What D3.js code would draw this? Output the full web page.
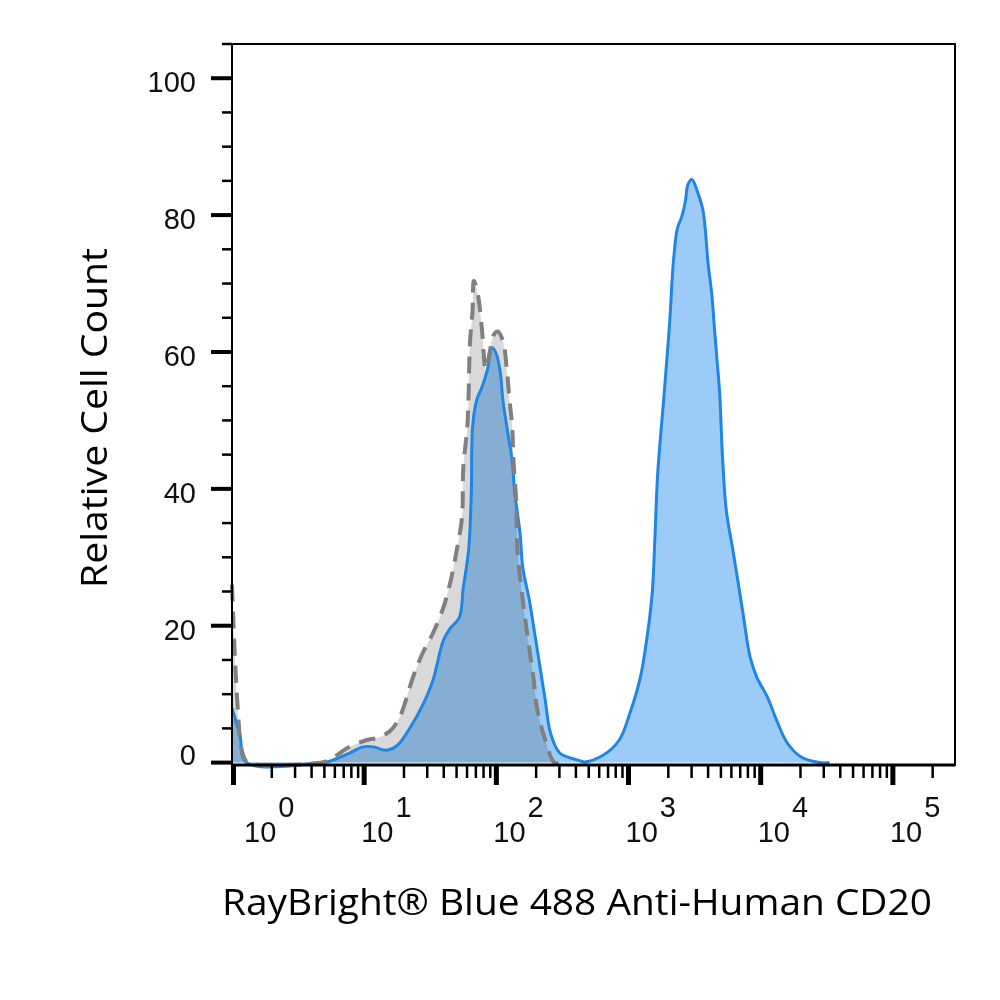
<!DOCTYPE html>
<html lang="en">
<head>
  <meta charset="UTF-8">
  <script src="https://cdn.jsdelivr.net/npm/d3@7"></script>
  <style>
    body { margin: 0; background: #fff; }
  </style>
</head>
<body>
<div id="container"></div>
<script>

// Stained sample (blue) - position in decades of fluorescence, relative count
const sampleDecade = [0, 0.06, 0.11, 0.67, 0.74, 0.89, 0.99, 1.07, 1.17, 1.25, 1.35, 1.45, 1.52, 1.60, 1.65, 1.72, 1.75,
  1.79, 1.81, 1.82, 1.85, 1.89, 1.93, 1.97, 2.00, 2.03, 2.05, 2.08, 2.12, 2.14, 2.18, 2.20, 2.25, 2.29, 2.33, 2.37, 2.41,
  2.48, 2.61, 2.67, 2.81, 2.93, 3.01, 3.09, 3.14, 3.18, 3.20, 3.22, 3.27, 3.31, 3.34, 3.37, 3.40, 3.43, 3.45, 3.48, 3.52,
  3.56, 3.58, 3.60, 3.63, 3.65, 3.67, 3.69, 3.71, 3.74, 3.79, 3.83, 3.87, 3.92, 3.97, 4.05, 4.12, 4.20, 4.30, 4.45, 4.52];
const sampleCount = [8, 4, 0, 0, 0.2, 1.4, 2.3, 2.3, 1.8, 2.5, 5.2, 8.7, 12, 17.9, 19.6, 21.2, 25.6,
  31, 39, 49, 52.9, 54.8, 57.2, 60.6, 59.7, 57, 52.9, 49, 44, 39.3, 33.4, 28.5, 23.7, 18.9, 14, 9.1, 4.3,
  1.4, 0.4, 0.1, 1.1, 3.3, 7.2, 12.5, 18.3, 25, 33, 42, 54, 64, 73.3, 78.1, 79.6, 82, 84.5, 85.2, 83.5,
  81, 78.1, 73.3, 68.4, 63.5, 58.7, 53.8, 45, 36.8, 31, 26.2, 21.3, 15.4, 12.5, 9.6, 6.2, 2.9, 0.9, 0, 0];

// Isotype control (grey, dashed)
const isotypeDecade = [0, 0.04, 0.08, 0.12, 0.67, 0.74, 0.87, 1.02, 1.10, 1.20, 1.27, 1.37, 1.44, 1.52, 1.60, 1.65, 1.70,
  1.74, 1.75, 1.78, 1.79, 1.80, 1.82, 1.83, 1.86, 1.89, 1.92, 1.95, 1.98, 2.01, 2.05, 2.08, 2.10, 2.12, 2.13, 2.15, 2.16,
  2.20, 2.24, 2.28, 2.31, 2.37, 2.44, 2.50];
const isotypeCount = [26, 9, 1.4, 0, 0, 0.4, 2.1, 3.3, 3.6, 4.7, 6.7, 12.5, 15.9, 18.9, 22.7, 26.2, 31,
  35.8, 43.1, 49, 53.8, 61.2, 66, 70.4, 68.4, 63.5, 57.5, 60, 62.5, 63, 61.6, 57.2, 52.9, 49, 44, 38.3, 31,
  23.7, 17.9, 12.5, 7.7, 3.3, 0, 0];

const yTicks = [0, 20, 40, 60, 80, 100];
const decadeExponents = [0, 1, 2, 3, 4, 5];
const xTitle = "RayBright® Blue 488 Anti-Human CD20";
const yTitle = "Relative Cell Count";

const width = 1000;
const height = 1000;
const plotLeft = 232, plotRight = 955, plotTop = 44, plotBottom = 765;

const svg = d3.create("svg")
    .attr("width", width)
    .attr("height", height);

const x = d3.scaleLog()
    .domain([1, 10 ** 5.47])
    .range([plotLeft, plotRight]);

const y = d3.scaleLinear()
    .domain([-0.35, 105])
    .range([plotBottom, plotTop]);

const sample = sampleDecade.map((d, i) => ({ v: 10 ** d, c: sampleCount[i] }));
const isotype = isotypeDecade.map((d, i) => ({ v: 10 ** d, c: isotypeCount[i] }));

const curve = d3.curveCatmullRom.alpha(0.5);

const area = d3.area()
    .x(d => x(d.v))
    .y0(y(0))
    .y1(d => y(d.c))
    .curve(curve);

const line = d3.line()
    .x(d => x(d.v))
    .y(d => y(d.c))
    .curve(curve);

// fills
svg.append("path")
    .datum(isotype)
    .attr("d", area)
    .attr("fill", "#d9d9d9");

svg.append("path")
    .datum(sample)
    .attr("d", area)
    .attr("fill", "#9dcbf7")
    .style("mix-blend-mode", "multiply");

// outlines
svg.append("path")
    .datum(sample)
    .attr("d", line)
    .attr("fill", "none")
    .attr("stroke", "#1f86e6")
    .attr("stroke-width", 3)
    .attr("stroke-linejoin", "round");

svg.append("path")
    .datum(isotype)
    .attr("d", line)
    .attr("fill", "none")
    .attr("stroke", "#808080")
    .attr("stroke-width", 4)
    .attr("stroke-dasharray", "17,10");

// frame
svg.append("rect")
    .attr("x", plotLeft)
    .attr("y", plotTop)
    .attr("width", plotRight - plotLeft)
    .attr("height", plotBottom - plotTop)
    .attr("fill", "none")
    .attr("stroke", "#000")
    .attr("stroke-width", 2);

svg.append("line")
    .attr("x1", plotLeft).attr("x2", plotRight)
    .attr("y1", plotBottom).attr("y2", plotBottom)
    .attr("stroke", "#000")
    .attr("stroke-width", 3);

// y axis ticks
const yMinor = d3.range(0, 106, 5).filter(d => d % 20 !== 0);
svg.append("g")
  .selectAll("line")
  .data(yMinor)
  .join("line")
    .attr("x1", plotLeft - 10).attr("x2", plotLeft)
    .attr("y1", d => y(d)).attr("y2", d => y(d))
    .attr("stroke", "#000")
    .attr("stroke-width", 2.5);

svg.append("g")
  .selectAll("line")
  .data(yTicks)
  .join("line")
    .attr("x1", plotLeft - 21).attr("x2", plotLeft)
    .attr("y1", d => y(d)).attr("y2", d => y(d))
    .attr("stroke", "#000")
    .attr("stroke-width", 4);

svg.append("g")
  .selectAll("text")
  .data(yTicks)
  .join("text")
    .attr("x", 196)
    .attr("y", d => y(d) + (d === 0 ? 2 : 14))
    .attr("text-anchor", "end")
    .attr("font-family", "Liberation Sans, Arial, sans-serif")
    .attr("font-size", 29)
    .attr("fill", "#111")
    .text(d => d);

// x axis ticks
const xMinor = [];
for (let e = 0; e <= 5; e++) {
  for (let k = 2; k <= 9; k++) {
    const v = k * 10 ** e;
    if (v <= x.domain()[1]) xMinor.push(v);
  }
}
svg.append("g")
  .selectAll("line")
  .data(xMinor)
  .join("line")
    .attr("x1", d => x(d)).attr("x2", d => x(d))
    .attr("y1", plotBottom).attr("y2", plotBottom + 13)
    .attr("stroke", "#000")
    .attr("stroke-width", 2.5);

svg.append("g")
  .selectAll("line")
  .data(decadeExponents)
  .join("line")
    .attr("x1", d => x(10 ** d) + (d === 0 ? 1.5 : 0))
    .attr("x2", d => x(10 ** d) + (d === 0 ? 1.5 : 0))
    .attr("y1", plotBottom).attr("y2", plotBottom + 20)
    .attr("stroke", "#000")
    .attr("stroke-width", 5);

const xLabels = svg.append("g")
  .selectAll("text")
  .data(decadeExponents)
  .join("text")
    .attr("x", d => x(10 ** d) + (d === 0 ? 12 : -3))
    .attr("y", 842)
    .attr("font-family", "Liberation Sans, Arial, sans-serif")
    .attr("font-size", 29)
    .attr("fill", "#111");

xLabels.append("tspan").text("10");
xLabels.append("tspan")
    .attr("dx", 2)
    .attr("dy", -25)
    .text(d => d);

// titles
svg.append("text")
    .attr("x", 222)
    .attr("y", 915)
    .attr("font-family", "Open Sans, Noto Sans, sans-serif")
    .attr("font-size", 36)
    .attr("textLength", 710)
    .attr("lengthAdjust", "spacingAndGlyphs")
    .attr("fill", "#000")
    .text(xTitle);

svg.append("text")
    .attr("transform", "translate(107,588) rotate(-90)")
    .attr("font-family", "Open Sans, Noto Sans, sans-serif")
    .attr("font-size", 36)
    .attr("textLength", 340)
    .attr("lengthAdjust", "spacingAndGlyphs")
    .attr("fill", "#000")
    .text(yTitle);

document.getElementById("container").appendChild(svg.node());

</script>
</body>
</html>
